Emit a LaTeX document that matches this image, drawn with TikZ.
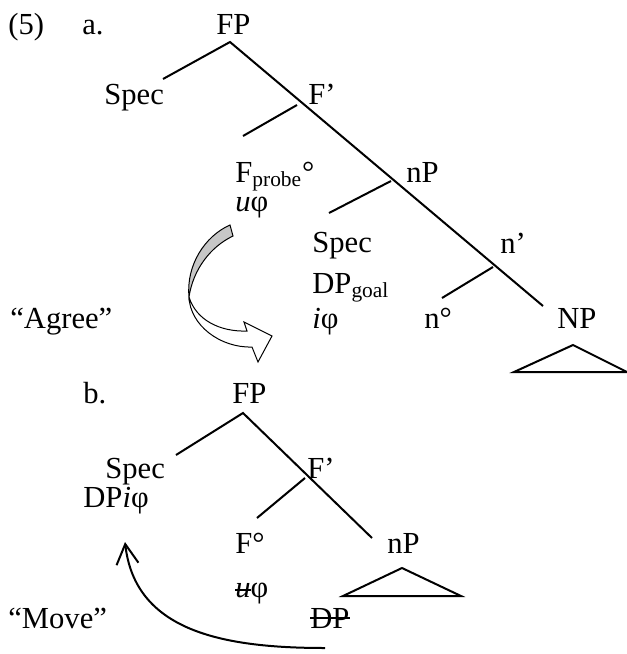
\documentclass[tikz,border=0pt]{standalone}
\usepackage{fontspec}
\setmainfont{Liberation Serif}
\usetikzlibrary{arrows.meta}

% strike a piece of text through at a given height
\newcommand{\struckout}[2][0.28em]{\setbox0\hbox{#2}\rlap{\rule[#1]{\wd0}{0.06em}}\box0}

\begin{document}
\begin{tikzpicture}[x=0.5pt,y=-0.5pt,
	every node/.style={anchor=base west,inner sep=0pt,font=\fontsize{15.3}{18}\selectfont},
	branch/.style={line width=1pt},
	ribbon/.style={line width=0.5pt,line join=miter}]
\useasboundingbox (0,0) rectangle (627,654);

%----------------------------
% a. before Agree
%----------------------------
\node (exnum) at (8,34) {(5)};
\node (alabel) at (82,34) {a.};
\node (aFP) at (216,34) {FP};
\node (aSpec) at (104,104) {Spec};
\node (aFbar) at (308,104) {F’};
\node (aFhead) at (235,182) {F\textsubscript{probe}°};
\node (aUphi) at (235,211) {\textit{u}φ};
\node (anP) at (406,182) {nP};
\node (aSpecn) at (312,252) {Spec};
\node (aDPgoal) at (312,293) {DP\textsubscript{goal}};
\node (aIphi) at (312,328) {\textit{i}φ};
\node (anbar) at (500,253) {n’};
\node (anhead) at (424,328) {n°};
\node (aNP) at (557,328) {NP};
\node (agree) at (10,328) {“Agree”};

% branch points
\coordinate (aTop) at (230,42);
\coordinate (aSpecEnd) at (163,79);
\coordinate (aEnd) at (543,306);
\coordinate (aFbarPt) at (297,105);
\coordinate (aFheadEnd) at (243,136);
\coordinate (anPPt) at (391,181);
\coordinate (aSpecnEnd) at (329,213);
\coordinate (anbarPt) at (493,267);
\coordinate (anheadEnd) at (442,298);

\draw[branch] (aSpecEnd) -- (aTop) -- (aEnd);
\draw[branch] (aFbarPt) -- (aFheadEnd);
\draw[branch] (anPPt) -- (aSpecnEnd);
\draw[branch] (anbarPt) -- (anheadEnd);
% triangle under NP
\draw[branch] (573,345) -- (514,372) -- (627,372) -- cycle;

% twisted block arrow for Agree: grey back, white front
\coordinate (twist) at (189,297);
\draw[ribbon,fill=black!22] (230,225) .. controls (205,236) and (186,265) .. (twist)
	.. controls (193,270) and (210,247) .. (233,236) -- cycle;
\draw[ribbon,fill=white] (twist) .. controls (190,325) and (220,348) .. (252,347)
	-- (258,362) -- (272,336) -- (244,322) -- (247,331)
	.. controls (220,332) and (196,320) .. (twist);

%----------------------------
% b. after Move
%----------------------------
\node (blabel) at (83,403) {b.};
\node (bFP) at (232,403) {FP};
\node (bSpec) at (105,478) {Spec};
\node (bDP) at (83,507) {DP\textit{i}φ};
\node (bFbar) at (307,478) {F’};
\node (bFhead) at (235,553) {F°};
\node (bUphi) at (235,597) {\struckout[0.2em]{\textit{u}}φ};
\node (bnP) at (387,553) {nP};
\node (bTrace) at (310,628) {\struckout[0.3em]{DP}};
\node (move) at (8,628) {“Move”};

\coordinate (bTop) at (243,413);
\coordinate (bSpecEnd) at (176,455);
\coordinate (bEnd) at (372,538);
\coordinate (bFbarPt) at (305,478);
\coordinate (bFheadEnd) at (257,518);

\draw[branch] (bSpecEnd) -- (bTop) -- (bEnd);
\draw[branch] (bFbarPt) -- (bFheadEnd);
% triangle under nP
\draw[branch] (402,568) -- (343,596) -- (461,596) -- cycle;

% Move arrow
\coordinate (moveFrom) at (325,648);
\coordinate (moveTo) at (125,542);
\draw[branch,-{Straight Barb[length=10pt,width=11pt]}] (moveFrom)
	.. controls (220,648) and (135,630) .. (moveTo);

\end{tikzpicture}
\end{document}
